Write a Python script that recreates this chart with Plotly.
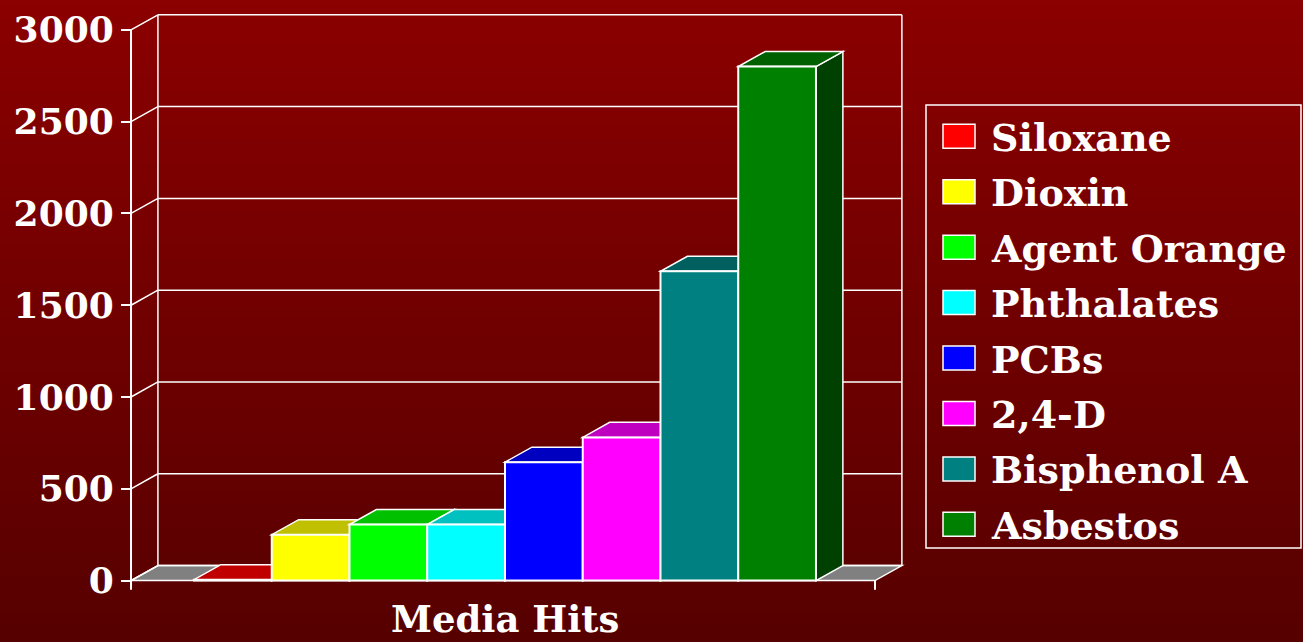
import plotly.graph_objects as go

# ---------------- data ----------------
categories = ["Siloxane", "Dioxin", "Agent Orange", "Phthalates", "PCBs", "2,4-D", "Bisphenol A", "Asbestos"]
values = [5, 250, 305, 305, 645, 780, 1685, 2800]
front_colors = ["#FF0000", "#FFFF00", "#00FF00", "#00FFFF", "#0000FF", "#FF00FF", "#008080", "#008000"]
top_colors = ["#C00000", "#C0C000", "#00C000", "#00C0C0", "#0000C0", "#C000C0", "#006060", "#006000"]
side_colors = ["#800000", "#808000", "#008000", "#008080", "#000080", "#800080", "#004040", "#004000"]
ytick_vals = [0, 500, 1000, 1500, 2000, 2500, 3000]
ytick_text = ["0", "500", "1000", "1500", "2000", "2500", "3000"]
x_title = "Media Hits"

# ---------------- layout constants ----------------
W, H = 1303, 642
L, R, T, B = 100, 912, 8, 600
PW, PH = R - L, B - T
XMIN, XMAX = -1.709, 8.735
YMIN, YMAX = -105.7, 3119.2
XL, XR = -1.31, 8.259        # front frame left/right (x units)
DX, DY = 0.346, 82           # depth offset (x units, y units)
AX_EXT = 50                  # front axis extension below zero
FONT = "DejaVu Serif"


def xp(px):
    return (px - L) / PW


def yp(py):
    return (B - py) / PH


def path(pts):
    return "M " + " L ".join(f"{x},{y}" for x, y in pts) + " Z"


shapes = []

# background vertical gradient
step = 6
for y0 in range(0, H, step):
    y1 = min(H + 2, y0 + step + 1)
    t = (y0 + step / 2) / H
    r = round(139 + (86 - 139) * t)
    shapes.append(dict(type="rect", xref="paper", yref="paper",
                       x0=xp(-2), x1=xp(W + 2), y0=yp(y1), y1=yp(y0),
                       fillcolor=f"rgb({r},0,0)", line=dict(width=0), layer="below"))

wl = dict(color="white", width=1.5)

# floor
shapes.append(dict(type="path", xref="x", yref="y", layer="below",
                   path=path([(XL, 0), (XR, 0), (XR + DX, DY), (XL + DX, DY)]),
                   fillcolor="#808080", line=wl))

# back wall gridlines and side diagonals
for v in ytick_vals:
    shapes.append(dict(type="line", xref="x", yref="y", layer="below",
                       x0=XL + DX, x1=XR + DX, y0=v + DY, y1=v + DY, line=wl))
    shapes.append(dict(type="line", xref="x", yref="y", layer="below",
                       x0=XL, x1=XL + DX, y0=v, y1=v + DY, line=wl))
# back wall verticals
for xx in (XL + DX, XR + DX):
    shapes.append(dict(type="line", xref="x", yref="y", layer="below",
                       x0=xx, x1=xx, y0=DY, y1=ytick_vals[-1] + DY, line=wl))
# front axis line and right bottom tick
shapes.append(dict(type="line", xref="x", yref="y", layer="below",
                   x0=XL, x1=XL, y0=-AX_EXT, y1=ytick_vals[-1], line=dict(color="white", width=2)))
shapes.append(dict(type="line", xref="x", yref="y", layer="below",
                   x0=XR, x1=XR, y0=-AX_EXT, y1=0, line=dict(color="white", width=2)))

# 3D side and top faces of the bars
xpos = list(range(len(categories)))
for i, v in enumerate(values):
    x0, x1 = xpos[i] - 0.5, xpos[i] + 0.5
    shapes.append(dict(type="path", xref="x", yref="y", layer="below",
                       path=path([(x1, 0), (x1, v), (x1 + DX, v + DY), (x1 + DX, DY)]),
                       fillcolor=side_colors[i], line=wl))
    shapes.append(dict(type="path", xref="x", yref="y", layer="below",
                       path=path([(x0, v), (x1, v), (x1 + DX, v + DY), (x0 + DX, v + DY)]),
                       fillcolor=top_colors[i], line=wl))

# legend (custom, large swatches)
LEG_X0, LEG_X1, LEG_Y0, LEG_Y1 = 926, 1301, 105, 548
shapes.append(dict(type="rect", xref="paper", yref="paper",
                   x0=xp(LEG_X0), x1=xp(LEG_X1), y0=yp(LEG_Y1), y1=yp(LEG_Y0),
                   line=wl, fillcolor="rgba(0,0,0,0)"))
annotations = []
for i, name in enumerate(categories):
    yc = 136.3 + 55.43 * i
    shapes.append(dict(type="rect", xref="paper", yref="paper",
                       x0=xp(943), x1=xp(975), y0=yp(yc + 12), y1=yp(yc - 12),
                       fillcolor=front_colors[i], line=wl))
    annotations.append(dict(text=name, xref="paper", yref="paper", x=xp(989), y=yp(yc + 1),
                            xanchor="left", yanchor="middle", showarrow=False,
                            font=dict(family=FONT, size=38, color="white", weight="bold")))

# category axis title
annotations.append(dict(text=x_title, xref="paper", yref="paper", x=xp(505), y=yp(619),
                        xanchor="center", yanchor="middle", showarrow=False,
                        font=dict(family=FONT, size=37, color="white", weight="bold")))

fig = go.Figure()
fig.add_trace(go.Bar(x=xpos, y=values, width=1,
                     marker=dict(color=front_colors, line=dict(color="white", width=2)),
                     hovertext=categories, hoverinfo="text+y", showlegend=False))

fig.update_layout(
    width=W, height=H, autosize=False,
    margin=dict(l=L, r=W - R, t=T, b=H - B, autoexpand=False),
    paper_bgcolor="rgb(112,0,0)", plot_bgcolor="rgba(0,0,0,0)",
    shapes=shapes, annotations=annotations, showlegend=False,
    xaxis=dict(range=[XMIN, XMAX], showticklabels=False, ticks="", showgrid=False,
               zeroline=False, showline=False, automargin=False),
    yaxis=dict(range=[YMIN, YMAX], anchor="free", position=xp(131), automargin=False,
               tickvals=ytick_vals, ticktext=ytick_text, ticks="outside", ticklen=10,
               tickwidth=2, tickcolor="white", showline=False, showgrid=False, zeroline=False,
               tickfont=dict(family=FONT, size=36, color="white", weight="bold")),
)

fig.write_html("out.html", config={"responsive": False, "displayModeBar": False},
               post_script="document.body.style.margin='0';document.body.style.padding='0';")
